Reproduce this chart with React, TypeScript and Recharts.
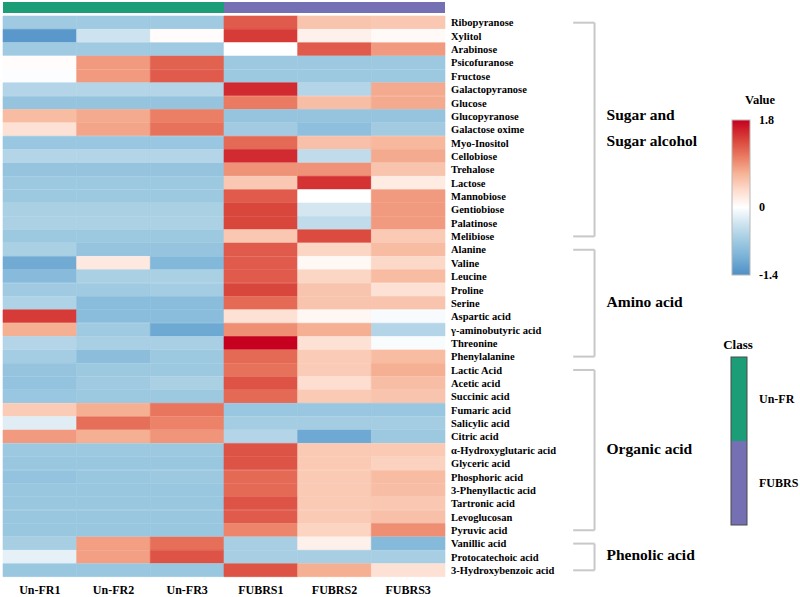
import React from 'react';
import { BarChart, Bar, XAxis, YAxis, Cell, ReferenceLine } from 'recharts';

// Samples (columns) and metabolites (rows)
const samples = ['Un-FR1', 'Un-FR2', 'Un-FR3', 'FUBRS1', 'FUBRS2', 'FUBRS3'];

const metabolites = [
  'Ribopyranose', 'Xylitol', 'Arabinose', 'Psicofuranose', 'Fructose', 'Galactopyranose',
  'Glucose', 'Glucopyranose', 'Galactose oxime', 'Myo-Inositol', 'Cellobiose', 'Trehalose',
  'Lactose', 'Mannobiose', 'Gentiobiose', 'Palatinose', 'Melibiose',
  'Alanine', 'Valine', 'Leucine', 'Proline', 'Serine', 'Aspartic acid',
  'γ-aminobutyric acid', 'Threonine', 'Phenylalanine',
  'Lactic Acid', 'Acetic acid', 'Succinic acid', 'Fumaric acid', 'Salicylic acid', 'Citric acid',
  'α-Hydroxyglutaric acid', 'Glyceric acid', 'Phosphoric acid', '3-Phenyllactic acid',
  'Tartronic acid', 'Levoglucosan', 'Pyruvic acid',
  'Vanillic acid', 'Protocatechoic acid', '3-Hydroxybenzoic acid',
];

// Scaled abundance per sample, one value per metabolite (same order as above)
const unFR1 = [-0.7, -1.3, -0.7, 0.03, -0.02, -0.55, -0.78, 0.62, 0.3, -0.75, -0.55, -0.78, -0.72, -0.72, -0.62, -0.6, -0.72, -0.62, -1.1, -0.9, -0.7, -0.58, 1.45, 0.72, -0.55, -0.66, -0.78, -0.8, -0.75, 0.48, -0.22, 0.85, -0.72, -0.74, -0.8, -0.74, -0.74, -0.74, -0.74, -0.64, -0.18, -0.74];
const unFR2 = [-0.7, -0.35, -0.7, 0.85, 0.85, -0.55, -0.78, 0.75, 0.78, -0.75, -0.55, -0.78, -0.72, -0.72, -0.62, -0.6, -0.72, -0.78, 0.22, -0.62, -0.7, -0.88, -0.88, -0.7, -0.63, -0.86, -0.72, -0.7, -0.72, 0.72, 1.12, 0.72, -0.72, -0.74, -0.74, -0.74, -0.74, -0.74, -0.74, 0.82, 0.82, -0.74];
const unFR3 = [-0.7, 0.03, -0.7, 1.2, 1.25, -0.55, -0.78, 1.02, 1.1, -0.75, -0.55, -0.78, -0.72, -0.72, -0.62, -0.6, -0.72, -0.78, -0.95, -0.62, -0.66, -0.88, -0.88, -1.12, -0.63, -0.72, -0.72, -0.62, -0.72, 1.08, 1.0, 0.88, -0.72, -0.74, -0.72, -0.74, -0.74, -0.74, -0.74, 1.12, 1.3, -0.74];
const fubrs1 = [1.25, 1.45, 0, -0.72, -0.72, 1.55, 1.05, -0.78, -0.68, 1.15, 1.55, 0.9, 0.52, 1.25, 1.38, 1.38, 0.52, 1.25, 1.25, 1.25, 1.38, 1.15, 0.3, 0.92, 1.8, 1.15, 1.1, 1.3, 1.15, -0.75, -0.66, -0.55, 1.3, 1.3, 1.15, 1.15, 1.3, 1.25, 0.98, -0.64, -0.64, 1.3];
const fubrs2 = [0.55, 0.15, 1.25, -0.72, -0.72, -0.55, 0.6, -0.78, -0.85, 0.58, -0.45, 0.9, 1.5, 0, -0.3, -0.45, 1.35, 0.4, 0.07, 0.4, 0.55, 0.55, 0.08, 0.72, 0.3, 0.48, 0.48, 0.33, 0.5, -0.75, -0.66, -1.12, 0.5, 0.5, 0.5, 0.5, 0.5, 0.5, 0.42, 0.15, -0.64, 0.72];
const fubrs3 = [0.52, 0.05, 0.85, -0.72, -0.72, 0.75, 0.75, -0.78, -0.68, 0.65, 0.75, 0.55, 0.2, 0.85, 0.85, 0.85, 0.5, 0.62, 0.38, 0.62, 0.3, 0.55, -0.05, -0.55, -0.04, 0.62, 0.72, 0.6, 0.55, -0.75, -0.66, -0.72, 0.5, 0.43, 0.62, 0.6, 0.52, 0.58, 0.92, -0.92, -0.64, 0.3];

const sampleValues = [unFR1, unFR2, unFR3, fubrs1, fubrs2, fubrs3];

// Compound classes (first and last row index of each block)
const groupLabels = [['Sugar and', 'Sugar alcohol'], ['Amino acid'], ['Organic acid'], ['Phenolic acid']];
const groupFirst = [0, 17, 26, 39];
const groupLast = [16, 25, 38, 41];

// Sample classes
const classNames = ['Un-FR', 'FUBRS'];
const classSizes = [3, 3];
const classColors = ['#1b9e77', '#7570b3'];

// Colour scale
const valueTicks = [1.8, 0, -1.4];
const colorStops: [number, string][] = [
  [-1.4, '#4f8fc6'],
  [-1.0, '#7cb4d8'],
  [-0.7, '#9fcae1'],
  [-0.35, '#cde3ef'],
  [0, '#ffffff'],
  [0.35, '#fddccd'],
  [0.7, '#f6b295'],
  [1.05, '#ea7a61'],
  [1.4, '#d8433a'],
  [1.8, '#c6001f'],
];

const FONT = '"Liberation Serif", "Times New Roman", serif';

function hexToRgb(h: string) {
  const n = parseInt(h.slice(1), 16);
  return [(n >> 16) & 255, (n >> 8) & 255, n & 255];
}

function colorFor(v: number) {
  if (v <= colorStops[0][0]) return colorStops[0][1];
  for (let i = 1; i < colorStops.length; i++) {
    const [v1, c1] = colorStops[i];
    if (v <= v1) {
      const [v0, c0] = colorStops[i - 1];
      const t = (v - v0) / (v1 - v0);
      const a = hexToRgb(c0);
      const b = hexToRgb(c1);
      const m = a.map((x, k) => Math.round(x + (b[k] - x) * t));
      return `rgb(${m[0]},${m[1]},${m[2]})`;
    }
  }
  return colorStops[colorStops.length - 1][1];
}

// Every cell of a row gets unit width; colour comes from the value
const rows = metabolites.map((name, i) => {
  const row: Record<string, number | string> = { name };
  samples.forEach((_, j) => {
    row[`w${j}`] = 1;
    row[`v${j}`] = sampleValues[j][i];
  });
  return row;
});

const classRow = [{ name: 'Class', ...Object.fromEntries(classNames.map((c, i) => [c, classSizes[i]])) }];

// Bracket positions in x-axis units (sample columns span 0..6)
const BRACKET_START = 7.74;
const BRACKET_END = 8.03;

const GroupLabel = (props: any) => {
  const vb = props.viewBox || {};
  const x = (vb.x ?? vb.x1 ?? 0) + 12;
  const top = vb.y ?? Math.min(vb.y1 ?? 0, vb.y2 ?? 0);
  const h = vb.height ?? Math.abs((vb.y2 ?? 0) - (vb.y1 ?? 0));
  const lines: string[] = props.lines;
  const lh = 26;
  const cy = top + h / 2 - ((lines.length - 1) * lh) / 2 - 2;
  return (
    <g>
      {lines.map((t, i) => (
        <text key={t} x={x} y={cy + i * lh} dominantBaseline="central" fontFamily={FONT} fontWeight="bold" fontSize={15.5} fill="#000">
          {t}
        </text>
      ))}
    </g>
  );
};

const BAR_TOP = 120;
const BAR_BOTTOM = 275;
const vMax = valueTicks[0];
const vMin = valueTicks[valueTicks.length - 1];
const barY = (v: number) => BAR_TOP + ((vMax - v) / (vMax - vMin)) * (BAR_BOTTOM - BAR_TOP);

function Legends() {
  const stops = [...colorStops].reverse();
  const classTotal = classSizes.reduce((a, b) => a + b, 0);
  const cTop = 357;
  const cH = 168;
  let acc = 0;
  return (
    <svg width={800} height={597} style={{ position: 'absolute', left: 0, top: 0, pointerEvents: 'none' }}>
      <defs>
        <linearGradient id="valGrad" x1="0" y1="0" x2="0" y2="1">
          {stops.map(([v, c]) => (
            <stop key={v} offset={(vMax - v) / (vMax - vMin)} stopColor={c} />
          ))}
        </linearGradient>
      </defs>
      <text x={745} y={100} dominantBaseline="central" fontFamily={FONT} fontWeight="bold" fontSize={12.5} fill="#000">Value</text>
      <rect x={732} y={BAR_TOP} width={18} height={BAR_BOTTOM - BAR_TOP} fill="url(#valGrad)" stroke="#b8b8b8" strokeWidth={1} />
      {valueTicks.map((v) => (
        <text key={v} x={759} y={barY(v)} dominantBaseline="central" fontFamily={FONT} fontWeight="bold" fontSize={12} fill="#000">
          {String(v)}
        </text>
      ))}
      <text x={738} y={344} textAnchor="middle" dominantBaseline="central" fontFamily={FONT} fontWeight="bold" fontSize={13} fill="#000">Class</text>
      {classNames.map((c, i) => {
        const y0 = cTop + (acc / classTotal) * cH;
        acc += classSizes[i];
        const y1 = cTop + (acc / classTotal) * cH;
        return (
          <g key={c}>
            <rect x={731} y={y0} width={16} height={y1 - y0} fill={classColors[i]} />
            <text x={759} y={(y0 + y1) / 2} dominantBaseline="central" fontFamily={FONT} fontWeight="bold" fontSize={12} fill="#000">{c}</text>
          </g>
        );
      })}
      <rect x={731} y={cTop} width={16} height={cH} fill="none" stroke="#4a4a4a" strokeWidth={1} />
    </svg>
  );
}

export default function App() {
  const tickStyle = { fontFamily: FONT, fontWeight: 'bold', fill: '#000' } as const;
  return (
    <div style={{ position: 'absolute', left: 0, top: 0, width: 800, height: 597, background: '#fff' }}>
      {/* class strip above the heatmap */}
      <div style={{ position: 'absolute', left: 0, top: 0 }}>
        <BarChart width={800} height={14} data={classRow} layout="vertical" margin={{ top: 2, right: 0, left: 3, bottom: 1 }} barCategoryGap={0} barGap={0}>
          <XAxis type="number" domain={[0, 6]} hide />
          <YAxis type="category" dataKey="name" orientation="right" width={355} axisLine={false} tickLine={false} tickMargin={4} tick={{ ...tickStyle, fontSize: 11.5 }} />
          {classNames.map((c, i) => (
            <Bar key={c} dataKey={c} stackId="cls" fill={classColors[i]} isAnimationActive={false} />
          ))}
        </BarChart>
      </div>
      {/* heatmap */}
      <div style={{ position: 'absolute', left: 0, top: 0 }}>
        <BarChart width={800} height={597} data={rows} layout="vertical" margin={{ top: 16, right: 0, left: 3, bottom: 0 }} barCategoryGap={0} barGap={0}>
          <XAxis
            type="number"
            domain={[0, 6]}
            ticks={samples.map((_, j) => j + 0.5)}
            tickFormatter={(t: number) => samples[Math.floor(t)]}
            axisLine={false}
            tickLine={false}
            tickMargin={2}
            height={20}
            interval={0}
            tick={{ ...tickStyle, fontSize: 12 }}
          />
          <YAxis
            type="category"
            dataKey="name"
            orientation="right"
            width={355}
            axisLine={false}
            tickLine={false}
            tickMargin={0}
            interval={0}
            tick={{ ...tickStyle, fontSize: 10.5 }}
          />
          {samples.map((s, j) => (
            <Bar key={s} dataKey={`w${j}`} stackId="heat" isAnimationActive={false}>
              {rows.map((r, i) => {
                const c = colorFor(r[`v${j}`] as number);
                return <Cell key={i} fill={c} stroke={c} strokeWidth={0.6} />;
              })}
            </Bar>
          ))}
          {groupLabels.map((lines, g) => {
            const a = metabolites[groupFirst[g]];
            const b = metabolites[groupLast[g]];
            return [
              <ReferenceLine key={`t${g}`} segment={[{ x: BRACKET_START, y: a }, { x: BRACKET_END, y: a }]} stroke="#c8c8c8" strokeWidth={2} ifOverflow="visible" />,
              <ReferenceLine key={`v${g}`} segment={[{ x: BRACKET_END, y: a }, { x: BRACKET_END, y: b }]} stroke="#c8c8c8" strokeWidth={2} ifOverflow="visible" label={<GroupLabel lines={lines} />} />,
              <ReferenceLine key={`b${g}`} segment={[{ x: BRACKET_START, y: b }, { x: BRACKET_END, y: b }]} stroke="#c8c8c8" strokeWidth={2} ifOverflow="visible" />,
            ];
          })}
        </BarChart>
      </div>
      <Legends />
    </div>
  );
}
